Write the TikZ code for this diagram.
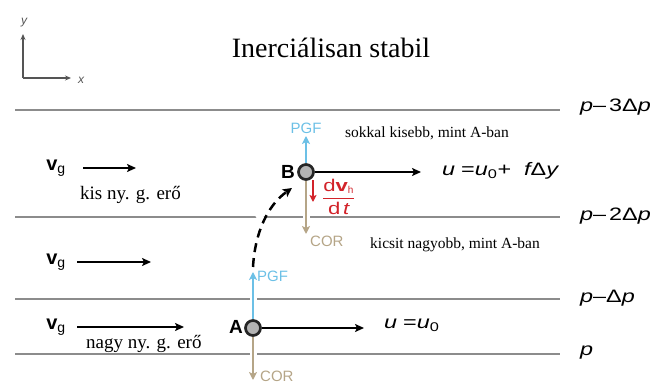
\documentclass[tikz,border=0pt]{standalone}
\usepackage{fontspec}
\setmainfont{Liberation Serif}
\setsansfont{Liberation Sans}
\newfontfamily\widesans[FakeStretch=1.3]{Liberation Sans}
\usetikzlibrary{arrows.meta}
\definecolor{pgfblue}{HTML}{6CC0E6}
\definecolor{cortan}{HTML}{B5A587}
\definecolor{accred}{HTML}{D2232A}
\definecolor{levelgray}{HTML}{8C8C8C}
\definecolor{axisgray}{HTML}{555555}
\definecolor{dotgray}{HTML}{B4B4B4}
\tikzset{
  level/.style={draw=levelgray, line width=1.2pt},
  halo/.style={draw=white, line width=7pt},
  windarrow/.style={draw=black, line width=2.5pt, -{Stealth[length=9pt,width=8pt,inset=2pt]}},
  forcearrow/.style={line width=2.7pt, -{Stealth[length=8pt,width=8pt,inset=2pt]}},
  parcel/.style={circle, draw=black!85, fill=dotgray, line width=2.7pt, minimum size=15pt, inner sep=0pt},
  ptlabel/.style={font=\sffamily\bfseries\fontsize{19}{19}\selectfont, inner sep=0pt},
  forcelabel/.style={font=\sffamily\fontsize{15}{15}\selectfont, inner sep=0pt},
  note/.style={font=\fontsize{15.5}{15.5}\selectfont, inner sep=0pt, anchor=west},
  gnote/.style={font=\fontsize{19}{19}\selectfont, inner sep=0pt, anchor=west},
  plabel/.style={font=\widesans\itshape\fontsize{18}{18}\selectfont, inner sep=0pt, anchor=west},
  vglabel/.style={font=\sffamily\fontsize{20}{20}\selectfont, inner sep=0pt},
}
\newcommand{\gdelta}{{\upshape Δ}}
\begin{document}
\begin{tikzpicture}[x=1pt, y=-1pt]
\useasboundingbox (0,0) rectangle (665,385);

% coordinate axes
\coordinate (origin) at (23,78);
\coordinate (yend) at (23,34);
\coordinate (xend) at (71,78);
\draw[axisgray, line width=1.3pt, -{Stealth[length=6pt,width=5pt]}] (origin) -- (yend);
\draw[axisgray, line width=1.3pt, -{Stealth[length=6pt,width=5pt]}] (origin) -- (xend);
\node[font=\sffamily\itshape\fontsize{12}{12}\selectfont, text=axisgray, inner sep=0pt] (ylab) at (24,23) {y};
\node[font=\sffamily\itshape\fontsize{12}{12}\selectfont, text=axisgray, inner sep=0pt] (xlab) at (81,80) {x};

% title
\node[font=\fontsize{28}{28}\selectfont, inner sep=0pt] (title) at (331,48) {Inerciálisan stabil};

% pressure levels
\draw[level] (15,110) coordinate (l3a) -- (560,110) coordinate (l3b);
\draw[level] (15,217) coordinate (l2a) -- (560,217) coordinate (l2b);
\draw[level] (15,299) coordinate (l1a) -- (560,299) coordinate (l1b);
\draw[level] (15,354) coordinate (l0a) -- (560,354) coordinate (l0b);
\node[plabel] (p3) at (580,107) {p{\upshape –\,3}\gdelta p};
\node[plabel] (p2) at (580,216) {p{\upshape –\,2}\gdelta p};
\node[plabel] (p1) at (580,298) {p{\upshape –}\gdelta p};
\node[plabel] (p0) at (580,353) {p};

% parcels
\node[parcel] (A) at (253,328) {};
\node[parcel] (B) at (306,172) {};
\node[ptlabel, anchor=east] (Alab) at (243,327) {A};
\node[ptlabel, anchor=east] (Blab) at (295,172) {B};

% end points of force arrows
\coordinate (pgfA) at (253,272);
\coordinate (corA) at (253,380);
\coordinate (pgfB) at (306,136);
\coordinate (corB) at (306,234);
\coordinate (uA) at (364,328);
\coordinate (uB) at (421,172);
\coordinate (dvtop) at (313,180);
\coordinate (dvbot) at (313,202);
\coordinate (pathstart) at (253,267);
\coordinate (pathend) at (292,188);

% white gaps where arrows cross the level lines
\draw[halo] (253,292) -- (253,306);
\draw[halo] (253,347) -- (253,361);
\draw[halo] (306,210) -- (306,224);
\draw[halo] (256,210) -- (264,224);

% forces at A
\draw[forcearrow, pgfblue] (A) -- (pgfA);
\draw[forcearrow, cortan] (A) -- (corA);
\node[forcelabel, text=pgfblue, anchor=west] (pgfAlab) at (257,276) {PGF};
\node[forcelabel, text=cortan, anchor=west] (corAlab) at (260,376) {COR};
\draw[windarrow] (A) -- (uA);
\node[plabel] (uAlab) at (384,325) {u\,\,{\upshape=}u\textsubscript{\upshape 0}};

% forces at B
\draw[forcearrow, cortan] (B) -- (corB);
\draw[forcearrow, pgfblue] (B) -- (pgfB);
\node[forcelabel, text=pgfblue, anchor=south] (pgfBlab) at (306,134) {PGF};
\node[forcelabel, text=cortan, anchor=west] (corBlab) at (310,241) {COR};
\draw[windarrow] (B) -- (uB);
\node[plabel] (uBlab) at (442,171) {u\,\,{\upshape=}u\textsubscript{\upshape 0}{\upshape +}\ \ f\gdelta y};
\draw[accred, line width=2pt, -{Stealth[length=7pt,width=7pt,inset=1.5pt]}] (dvtop) -- (dvbot);
\node[text=accred, inner sep=0pt, anchor=west, font=\widesans\fontsize{17}{17}\selectfont] (dvdt) at (322,197)
  {$\displaystyle\frac{\textsf{\widesans d}\textsf{\widesans\bfseries v}_{\textsf{\fontsize{10}{10}\selectfont h}}}{\textsf{\widesans d}\,\textsf{\widesans\itshape t}}$};

% displacement from A to B
\draw[black, line width=2.5pt, dash pattern=on 9pt off 6pt, -{Stealth[length=9pt,width=9pt,inset=2pt]}]
  (pathstart) .. controls (255,232) and (268,205) .. (pathend);

% notes
\node[note] (noteB) at (345,133) {sokkal kisebb, mint A-ban};
\node[note] (noteA) at (370,245) {kicsit nagyobb, mint A-ban};

% geostrophic wind in each layer
\node[vglabel] (vg3) at (56,168) {\textbf{v}\textsubscript{g}};
\node[vglabel] (vg2) at (56,262) {\textbf{v}\textsubscript{g}};
\node[vglabel] (vg1) at (56,327) {\textbf{v}\textsubscript{g}};
\coordinate (w3a) at (83,168); \coordinate (w3b) at (136,168);
\coordinate (w2a) at (77,262); \coordinate (w2b) at (151,262);
\coordinate (w1a) at (77,327); \coordinate (w1b) at (184,327);
\draw[windarrow] (w3a) -- (w3b);
\draw[windarrow] (w2a) -- (w2b);
\draw[windarrow] (w1a) -- (w1b);
\node[gnote] (gsmall) at (80,195) {kis ny. g. erő};
\node[gnote] (glarge) at (86,344) {nagy ny. g. erő};
\end{tikzpicture}
\end{document}
